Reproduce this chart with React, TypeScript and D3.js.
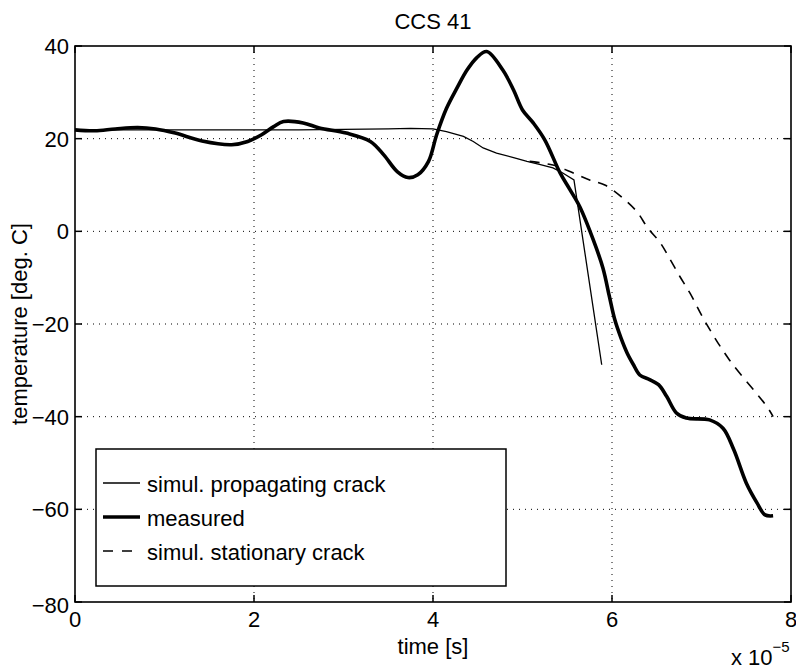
import React from "react";
import * as d3 from "d3";

const W = 796;
const H = 670;
const M = { left: 75, right: 5, top: 46, bottom: 68 };

const title = "CCS 41";
const xLabel = "time [s]";
const yLabel = "temperature [deg. C]";
const xTicks = [0, 2, 4, 6, 8];
const yTicks = [40, 20, 0, -20, -40, -60, -80];

// propagating crack simulation (thin)
const propX = [0, 0.5, 1, 1.5, 2, 2.5, 3, 3.5, 3.75, 4.0, 4.15, 4.34, 4.45, 4.56, 4.71, 4.9, 5.05, 5.2, 5.34, 5.45, 5.575, 5.885];
const propY = [21.9, 21.9, 21.9, 21.9, 21.9, 21.9, 22.0, 22.1, 22.2, 22.1, 21.5, 20.5, 19.4, 18.0, 16.9, 15.9, 15.1, 14.4, 13.7, 12.6, 11.1, -28.8];

// measured (thick)
const measX = [0, 0.22, 0.45, 0.7, 0.9, 1.12, 1.42, 1.75, 1.93, 2.08, 2.22, 2.33, 2.55, 2.73, 3.03, 3.3, 3.45, 3.6, 3.72, 3.83, 3.95, 4.04, 4.15, 4.27, 4.38, 4.49, 4.6, 4.78, 4.9, 5.0, 5.12, 5.25, 5.42, 5.53, 5.64, 5.79, 5.9, 5.97, 6.03, 6.1, 6.17, 6.24, 6.31, 6.42, 6.52, 6.61, 6.72, 6.83, 7.09, 7.24, 7.36, 7.5, 7.62, 7.71, 7.8];
const measY = [21.9, 21.7, 22.1, 22.4, 22.1, 21.2, 19.5, 18.7, 19.4, 20.8, 22.6, 23.7, 23.4, 22.3, 21.2, 19.4, 16.5, 12.9, 11.6, 12.2, 15.1, 20.8, 26.5, 31.0, 34.8, 37.5, 38.8, 34.8, 30.5, 26.2, 23.4, 19.7, 12.6, 9.0, 5.3, -1.8, -8.0, -14.0, -19.0, -23.0, -26.3, -28.8, -31.0, -32.0, -33.1, -35.6, -39.2, -40.3, -40.7, -42.5, -47.1, -54.3, -58.6, -61.2, -61.4];

// stationary crack simulation (dashed)
const statX = [5.08, 5.34, 5.53, 5.75, 5.92, 6.12, 6.28, 6.4, 6.54, 6.65, 6.76, 6.87, 7.05, 7.31, 7.73, 7.8];
const statY = [15.1, 14.3, 12.9, 11.1, 10.0, 7.2, 4.2, 0.7, -2.5, -6.1, -9.8, -13.3, -19.8, -27.7, -37.8, -40.0];

const legendItems = [
  { label: "simul. propagating crack", width: 1.3, dash: "" },
  { label: "measured", width: 3.6, dash: "" },
  { label: "simul. stationary crack", width: 1.5, dash: "10,9" },
];

const FONT = "'Liberation Sans', Arial, Helvetica, sans-serif";
const FS = 22;

export default function App() {
  const x = d3.scaleLinear().domain([0, 8]).range([M.left, W - M.right]);
  const y = d3.scaleLinear().domain([-80, 40]).range([H - M.bottom, M.top]);

  const toPts = (xs: number[], ys: number[]) => xs.map((v, i) => [v, ys[i]] as [number, number]);

  const lin = d3.line<[number, number]>().x((d) => x(d[0])).y((d) => y(d[1]));
  const smooth = d3
    .line<[number, number]>()
    .x((d) => x(d[0]))
    .y((d) => y(d[1]))
    .curve(d3.curveCatmullRom.alpha(0.5));

  const x0 = x(0), x1 = x(8), y0 = y(-80), y1 = y(40);
  const tick = 7;

  const lg = { x: 96, y: 449, w: 410, h: 137 };
  const rowY = [483, 517, 551];

  return (
    <svg
      width={W}
      height={H}
      style={{ position: "absolute", left: 0, top: 0, background: "#fff" }}
      fontFamily={FONT}
    >
      <rect x={0} y={0} width={W} height={H} fill="#fff" />
      {/* grid */}
      {xTicks.filter((t) => t > 0 && t < 8).map((t) => (
        <line key={"gx" + t} x1={x(t)} x2={x(t)} y1={y1} y2={y0} stroke="#000" strokeWidth={1} strokeDasharray="1,5" />
      ))}
      {yTicks.filter((t) => t > -80 && t < 40).map((t) => (
        <line key={"gy" + t} x1={x0} x2={x1} y1={y(t)} y2={y(t)} stroke="#000" strokeWidth={1} strokeDasharray="1,5" />
      ))}
      {/* data */}
      <path d={lin(toPts(propX, propY)) || ""} fill="none" stroke="#000" strokeWidth={1.3} />
      <path d={smooth(toPts(statX, statY)) || ""} fill="none" stroke="#000" strokeWidth={1.6} strokeDasharray="10,8" />
      <path d={smooth(toPts(measX, measY)) || ""} fill="none" stroke="#000" strokeWidth={3.6} strokeLinejoin="round" />
      {/* axes box */}
      <rect x={x0} y={y1} width={x1 - x0} height={y0 - y1} fill="none" stroke="#000" strokeWidth={1.6} />
      {xTicks.map((t) => (
        <g key={"tx" + t}>
          <line x1={x(t)} x2={x(t)} y1={y0} y2={y0 - tick} stroke="#000" strokeWidth={1.5} />
          <line x1={x(t)} x2={x(t)} y1={y1} y2={y1 + tick} stroke="#000" strokeWidth={1.5} />
          <text x={x(t)} y={y0 + 25} textAnchor="middle" fontSize={FS}>{t}</text>
        </g>
      ))}
      {yTicks.map((t) => (
        <g key={"ty" + t}>
          <line x1={x0} x2={x0 + tick} y1={y(t)} y2={y(t)} stroke="#000" strokeWidth={1.5} />
          <line x1={x1} x2={x1 - tick} y1={y(t)} y2={y(t)} stroke="#000" strokeWidth={1.5} />
          <text x={x0 - 6} y={y(t) + (t === -80 ? 11 : 8)} textAnchor="end" fontSize={FS}>
            {t < 0 ? "\u2212" + Math.abs(t) : t}
          </text>
        </g>
      ))}
      {/* labels */}
      <text x={(x0 + x1) / 2} y={29} textAnchor="middle" fontSize={FS}>{title}</text>
      <text x={(x0 + x1) / 2} y={654} textAnchor="middle" fontSize={FS}>{xLabel}</text>
      <text transform={`translate(27,${(y0 + y1) / 2}) rotate(-90)`} textAnchor="middle" fontSize={FS}>{yLabel}</text>
      <text x={731} y={665} fontSize={FS}>
        x 10<tspan dy={-13} fontSize={15}>−5</tspan>
      </text>
      {/* legend */}
      <rect x={lg.x} y={lg.y} width={lg.w} height={lg.h} fill="#fff" stroke="#000" strokeWidth={1.5} />
      {legendItems.map((it, i) => (
        <g key={it.label}>
          <line x1={103} x2={140} y1={rowY[i]} y2={rowY[i]} stroke="#000" strokeWidth={it.width} strokeDasharray={it.dash || undefined} />
          <text x={147} y={rowY[i] + 9} fontSize={FS}>{it.label}</text>
        </g>
      ))}
    </svg>
  );
}
